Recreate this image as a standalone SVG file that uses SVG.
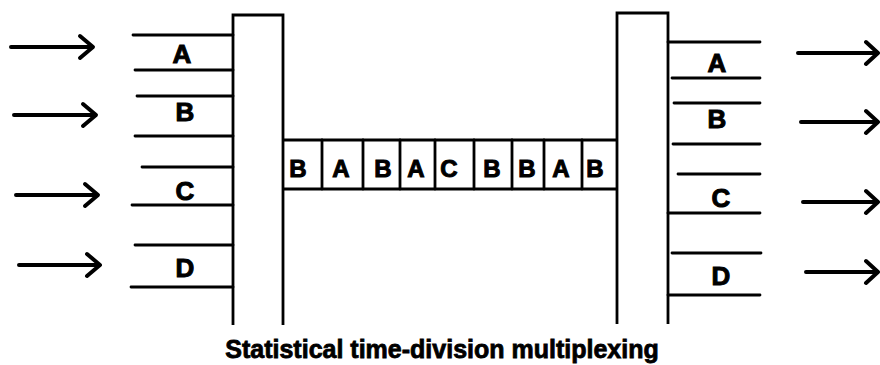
<svg xmlns="http://www.w3.org/2000/svg" width="880" height="365" viewBox="0 0 880 365">
<defs>
<style>
.ln{stroke:#000;stroke-width:2.8;fill:none;stroke-linecap:round}
.box{stroke:#000;stroke-width:2.8;fill:none}
.ar{stroke:#000;stroke-width:4;fill:none;stroke-linecap:round;stroke-linejoin:round}
.lb{font-family:"Liberation Sans",Arial,sans-serif;font-weight:bold;font-size:26px;text-anchor:middle;fill:#000;stroke:#000;stroke-width:1}
.cl{font-family:"Liberation Sans",Arial,sans-serif;font-weight:bold;font-size:24px;text-anchor:middle;fill:#000;stroke:#000;stroke-width:1}
.tt{font-family:"Liberation Sans",Arial,sans-serif;font-weight:bold;font-size:25px;text-anchor:middle;fill:#000;stroke:#000;stroke-width:0.8}
</style>
</defs>
<rect width="880" height="365" fill="#fff"/>
<g id="mux-left">
<path class="box" d="M233,325 V15 H283 V325"/>
</g>
<g id="inputs">
<path class="ln" d="M133,35 H233 M135,70 H233 M137,96 H233 M135,136 H233 M142,167 H233 M132,205 H233 M135,245 H233 M131,287 H233"/>
<text class="lb" x="182" y="63">A</text>
<text class="lb" x="185" y="121">B</text>
<text class="lb" x="185" y="200">C</text>
<text class="lb" x="185" y="277">D</text>
</g>
<g id="channel">
<path class="box" d="M283,140 H617 M283,189 H617"/>
<path class="ln" d="M322,140 V189 M363,140 V189 M400,140 V189 M435,140 V189 M474,140 V189 M512,140 V189 M544,140 V189 M582,140 V189"/>
<text class="cl" x="298" y="177">B</text>
<text class="cl" x="341" y="177">A</text>
<text class="cl" x="383" y="177">B</text>
<text class="cl" x="416" y="177">A</text>
<text class="cl" x="449" y="177">C</text>
<text class="cl" x="492" y="177">B</text>
<text class="cl" x="527" y="177">B</text>
<text class="cl" x="561" y="177">A</text>
<text class="cl" x="595" y="177">B</text>
</g>
<g id="mux-right">
<path class="box" d="M617,324 V13 H668 V324"/>
</g>
<g id="outputs">
<path class="ln" d="M668,42 H760 M672,78 H760 M674,103 H760 M673,144 H760 M678,174 H760 M668,213 H760 M672,253 H761 M668,295 H760"/>
<text class="lb" x="717" y="72">A</text>
<text class="lb" x="717" y="128">B</text>
<text class="lb" x="721" y="207">C</text>
<text class="lb" x="721" y="285">D</text>
</g>
<g id="connectors">
<path class="ar" d="M11,47 H92 M80,36 L93,47 L80,58"/>
<path class="ar" d="M14,115 H95 M83,104 L96,115 L83,126"/>
<path class="ar" d="M16,195 H97 M85,184 L98,195 L85,206"/>
<path class="ar" d="M19,265 H99 M87,254 L100,265 L87,276"/>
<path class="ar" d="M798,53 H876 M866,42 L878,53 L866,64"/>
<path class="ar" d="M801,122 H876 M866,111 L878,122 L866,133"/>
<path class="ar" d="M803,202 H876 M866,191 L878,202 L866,213"/>
<path class="ar" d="M806,272 H876 M866,261 L878,272 L866,283"/>
</g>
<text class="tt" x="442" y="358">Statistical time-division multiplexing</text>
</svg>
